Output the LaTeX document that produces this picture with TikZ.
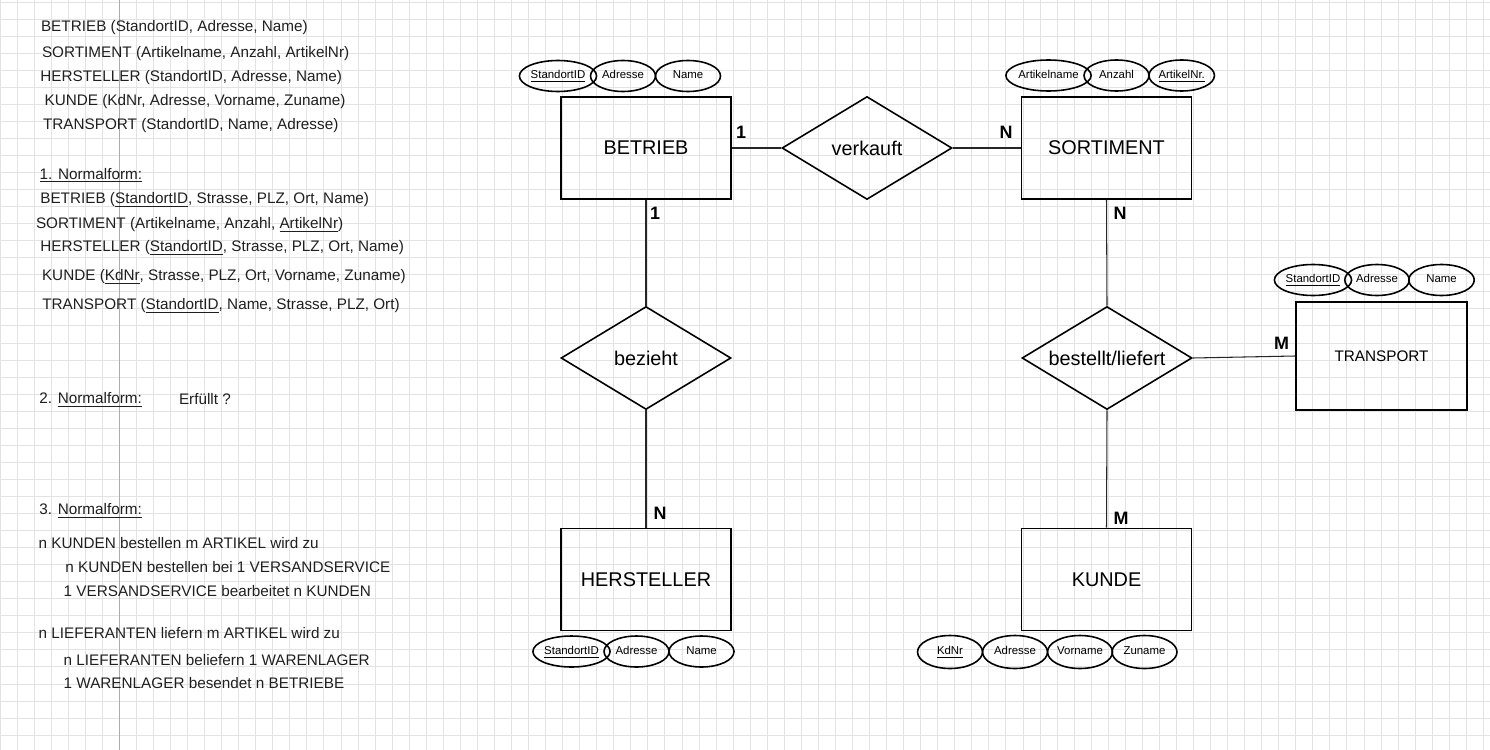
\documentclass[tikz,border=0pt]{standalone}
\usepackage{fontspec}
\setmainfont{Liberation Sans}
\usetikzlibrary{shapes.geometric}

\tikzset{
  gridline/.style={draw=gray!22,line width=0.55pt},
  entity/.style={draw,line width=1.1pt,minimum width=3.4cm,minimum height=2.04cm,
    inner sep=0pt,font=\fontsize{11.3}{13}\selectfont},
  relation/.style={draw,diamond,line width=0.9pt,minimum width=3.4cm,minimum height=2.06cm,
    inner sep=0pt,font=\fontsize{11.3}{13}\selectfont},
  attr/.style={draw,ellipse,line width=0.9pt,minimum width=1.3cm,minimum height=0.62cm,
    inner sep=0pt,text height=5pt,text depth=1.6pt,font=\fontsize{6.5}{8}\selectfont},
  card/.style={inner sep=0pt,font=\bfseries\fontsize{10.2}{12}\selectfont},
  note/.style={anchor=base west,inner sep=0pt,text=black!88,font=\fontsize{8.7}{10}\selectfont},
  conn/.style={draw=black!85,line width=0.6pt}
}
\newcommand{\reltext}[1]{\makebox[0pt]{#1}}

\begin{document}
\begin{tikzpicture}[x=0.02cm,y=-0.02cm]
    \useasboundingbox (0,0) rectangle (1490,750);

    %==================== Background: squared paper ====================
    \foreach \k in {0,...,87} {
      \draw[gridline] ({\k*17.05},0) -- ({\k*17.05},750);
    }
    \foreach \k in {0,...,43} {
      \draw[gridline] (0,{2+\k*17.05}) -- (1490,{2+\k*17.05});
    }
    \draw[draw=gray!65,line width=0.6pt] (119.35,0) -- (119.35,750);

    %==================== Notes on the left ====================
    \foreach \i/\x/\y/\t in {
        1/40.7/31.7/{BETRIEB (StandortID, Adresse, Name)},
        2/41.7/57.3/{SORTIMENT (Artikelname, Anzahl, ArtikelNr)},
        3/40/81.7/{HERSTELLER (StandortID, Adresse, Name)},
        4/44.3/106/{KUNDE (KdNr, Adresse, Vorname, Zuname)},
        5/42.7/130/{TRANSPORT (StandortID, Name, Adresse)},
        6/39.3/179/{\underline{1. Normalform:}},
        7/40/203.3/{BETRIEB (\underline{StandortID}, Strasse, PLZ, Ort, Name)},
        8/35.7/228.3/{SORTIMENT (Artikelname, Anzahl, \underline{ArtikelNr})},
        9/40/251.7/{HERSTELLER (\underline{StandortID}, Strasse, PLZ, Ort, Name)},
        10/41.7/280.7/{KUNDE (\underline{KdNr}, Strasse, PLZ, Ort, Vorname, Zuname)},
        11/42/309.3/{TRANSPORT (\underline{StandortID}, Name, Strasse, PLZ, Ort)},
        12/39/403.3/{2. \underline{Normalform:}},
        13/178.7/404.3/{Erfüllt ?},
        14/39/514.3/{3. \underline{Normalform:}},
        15/38.3/548.3/{n KUNDEN bestellen m ARTIKEL wird zu},
        16/65/572.7/{n KUNDEN bestellen bei 1 VERSANDSERVICE},
        17/63.3/596.7/{1 VERSANDSERVICE bearbeitet n KUNDEN},
        18/38.3/638.3/{n LIEFERANTEN liefern m ARTIKEL wird zu},
        19/63.3/665/{n LIEFERANTEN beliefern 1 WARENLAGER},
        20/63.3/688.3/{1 WARENLAGER besendet n BETRIEBE}} {
      \node[note] (txt\i) at (\x,\y) {\t};
    }

    %==================== Entities ====================
    \node[entity] (betrieb)    at (646,148)    {BETRIEB};
    \node[entity] (sortiment)  at (1106.5,148) {SORTIMENT};
    \node[entity] (hersteller) at (646,579.5)  {HERSTELLER};
    \node[entity] (kunde)      at (1106.5,579.5) {KUNDE};
    \node[entity,minimum width=3.42cm,minimum height=2.16cm,font=\fontsize{8.7}{10}\selectfont]
      (transport) at (1381.5,356) {TRANSPORT};

    %==================== Relationships ====================
    \node[relation] (verkauft) at (867,148)  {\reltext{verkauft}};
    \node[relation] (bezieht)  at (646,358)  {\reltext{bezieht}};
    \node[relation] (bestellt) at (1107,358) {\reltext{bestellt/liefert}};

    % Connectors
    \draw[conn] (betrieb.east) -- (verkauft.west);
    \draw[conn] (verkauft.east) -- (sortiment.west);
    \draw[conn] (betrieb.south) -- (bezieht.north);
    \draw[conn] (bezieht.south) -- (hersteller.north);
    \draw[conn] (sortiment.south) -- (bestellt.north);
    \draw[conn] (bestellt.south) -- (kunde.north);
    \draw[conn] (bestellt.east) -- (transport.west);

    % Cardinalities
    \node[card] (c1) at (741,132)    {1};
    \node[card] (c2) at (1006,132)   {N};
    \node[card] (c3) at (655,213)    {1};
    \node[card] (c4) at (1120,213)   {N};
    \node[card] (c5) at (660,513)    {N};
    \node[card] (c6) at (1121,518)   {M};
    \node[card] (c7) at (1281.5,343) {M};

    %==================== Attributes ====================
    \foreach \n/\x/\y/\w/\t in {
        b1/558/76/1.3/{\underline{StandortID}}, b2/623/76/1.3/Adresse, b3/688/76/1.3/Name,
        s1/1048.5/75.5/1.43/Artikelname, s2/1116.5/75.5/1.3/Anzahl, s3/1181.7/75.5/1.3/{\underline{ArtikelNr.}},
        t1/1313/280/1.29/{\underline{StandortID}}, t2/1377/280/1.29/Adresse, t3/1441.5/280/1.31/Name,
        h1/571.5/651.5/1.3/{\underline{StandortID}}, h2/636.5/651.5/1.3/Adresse, h3/701.5/651.5/1.3/Name} {
      \node[attr,minimum width=\w cm] (\n) at (\x,\y) {\t};
    }
    \foreach \n/\x/\t in {k1/950/{\underline{KdNr}}, k2/1015/Adresse, k3/1080/Vorname, k4/1144.5/Zuname} {
      \node[attr,minimum height=0.66cm] (\n) at (\x,652) {\t};
    }

\end{tikzpicture}
\end{document}
